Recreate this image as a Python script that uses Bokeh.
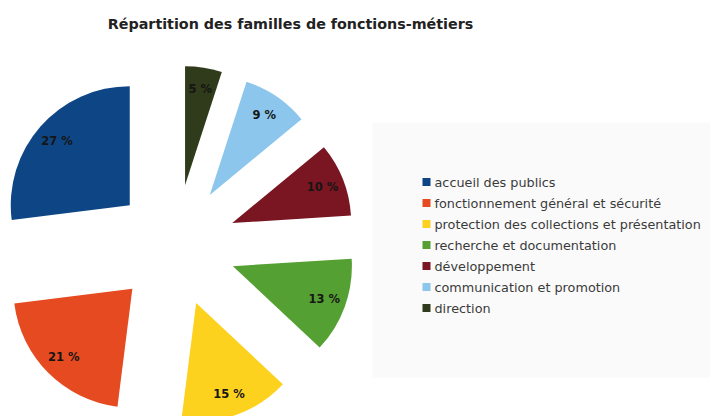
import math
from bokeh.plotting import figure
from bokeh.models import Range1d, ColumnDataSource
from bokeh.core.properties import value
from bokeh.embed import file_html
from bokeh.resources import INLINE

# ---- data ----
categories = [
    "accueil des publics",
    "fonctionnement général et sécurité",
    "protection des collections et présentation",
    "recherche et documentation",
    "développement",
    "communication et promotion",
    "direction",
]
percents = [27, 21, 15, 13, 10, 9, 5]
colors = ["#0e4584", "#e54a21", "#fdd21f", "#55a033", "#7a1522", "#8cc6ec", "#2f3b1a"]
title_text = "Répartition des familles de fonctions-métiers"

# ---- layout (pixel-like data space; y = 416 - screen y) ----
W, H = 710, 416
cx, cy = 175, 416 - 245
R = 119
EXPLODE = 61
LABEL_R = 97

p = figure(width=W, height=H, x_range=Range1d(0, W), y_range=Range1d(416 - H, 416),
           output_backend="svg", toolbar_location=None, min_border=0)
p.axis.visible = False
p.grid.visible = False
p.outline_line_color = None
p.background_fill_color = "white"
p.border_fill_color = "white"

# faint legend panel
p.quad(left=[372], right=[712], top=[416 - 122], bottom=[416 - 377],
       fill_color="#fafafa", line_color=None)

total = sum(percents)
starts, ends, xs, ys, lx, ly = [], [], [], [], [], []
acc = 0.0
for v in percents:
    a0 = math.pi / 2 + 2 * math.pi * acc / total
    acc += v
    a1 = math.pi / 2 + 2 * math.pi * acc / total
    mid = (a0 + a1) / 2
    ox = cx + EXPLODE * math.cos(mid)
    oy = cy + EXPLODE * math.sin(mid)
    starts.append(a0); ends.append(a1)
    xs.append(ox); ys.append(oy)
    lx.append(ox + LABEL_R * math.cos(mid))
    ly.append(oy + LABEL_R * math.sin(mid))

src = ColumnDataSource(dict(x=xs, y=ys, start=starts, end=ends, color=colors,
                            lx=lx, ly=ly, label=[f"{v} %" for v in percents],
                            cat=categories))
p.wedge(x="x", y="y", radius=R, start_angle="start", end_angle="end",
        fill_color="color", line_color=None, direction="anticlock", source=src)
p.text(x="lx", y="ly", text="label", source=src, text_align="center",
       text_baseline="middle", text_font=value("DejaVu Sans"), text_font_style="bold",
       text_font_size="11.5px", text_color="#151515")

# title
p.text(x=[290], y=[416 - 23], text=[title_text], text_align="center",
       text_baseline="middle", text_font=value("DejaVu Sans"), text_font_style="bold",
       text_font_size="14.3px", text_color="#222222")

# legend
leg_y = [416 - (181.5 + 21 * i) for i in range(len(categories))]
p.rect(x=[426] * len(categories), y=leg_y, width=8, height=8,
       fill_color=colors, line_color=None)
p.text(x=[434] * len(categories), y=leg_y, text=categories, text_align="left",
       text_baseline="middle", text_font=value("DejaVu Sans"),
       text_font_size="12.8px", text_color="#3a3a3a")

open("out.html", "w").write(file_html(p, INLINE))
